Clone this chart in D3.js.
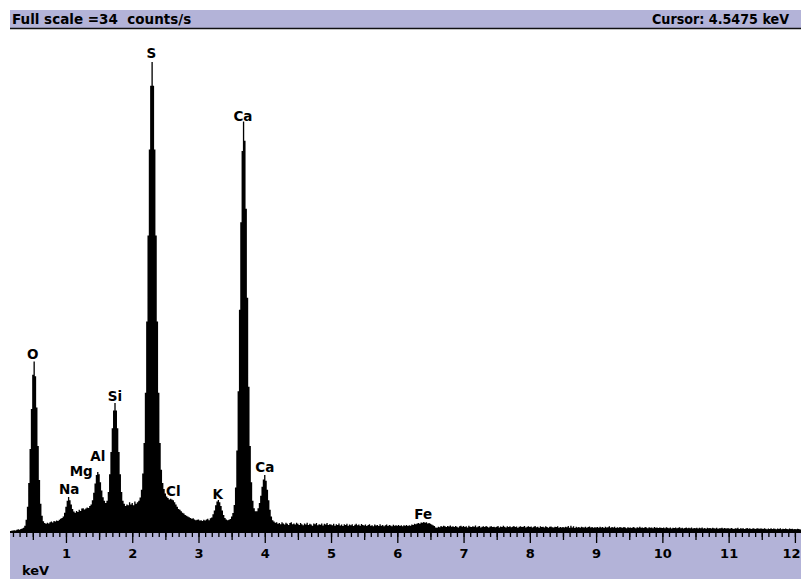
<!DOCTYPE html>
<html>
<head>
<meta charset="utf-8">
<script src="https://cdn.jsdelivr.net/npm/d3@7"></script>
<style>
  body { margin: 0; background: #fff; overflow: hidden; }
  text { font-family: "DejaVu Sans", sans-serif; font-weight: bold; fill: #000; white-space: pre; }
</style>
</head>
<body>
<script>
var d3; // loaded from the CDN

// spectrum: counts/s per channel, channel i sits at i * channelWidth keV
var channelWidth = 0.02;
var counts = [
  // 0.00 - 0.48 keV
  0,0,0,0,0,0,0,0,0.05,0.08,0.1,0.12,0.1,0.15,0.18,0.16,0.2,0.24,0.28,0.42,0.83,1.7,3.3,5.6,8.3,
  // 0.50 - 0.98
  10.6,11.5,10.5,8.4,5.8,3.5,1.9,1.1,0.72,0.6,0.55,0.62,0.58,0.66,0.7,0.64,0.75,0.7,0.78,0.74,0.82,0.9,0.95,1.05,1.3,
  // 1.00 - 1.48
  1.7,2.1,2.36,2.15,1.85,1.55,1.38,1.3,1.42,1.35,1.5,1.42,1.58,1.6,1.52,1.58,1.66,1.62,1.75,1.85,2.15,2.64,3.27,3.85,4.05,
  // 1.50 - 1.98
  3.9,3.35,2.8,2.35,2.1,1.95,2.1,2.7,3.9,5.4,7.0,8.2,8.7,8.2,7.0,5.4,3.9,2.7,2.1,1.9,1.75,1.85,1.8,2.0,1.85,
  // 2.00 - 2.48
  1.95,1.8,2.05,1.9,2.0,2.1,2.33,2.85,3.95,6.0,9.4,14.2,20.0,25.8,30.1,31.7,30.1,25.8,20.0,14.2,9.4,6.0,4.2,3.3,2.9,
  // 2.50 - 2.98
  2.6,2.4,2.3,2.2,2.25,2.2,2.15,2.0,1.85,1.7,1.55,1.5,1.4,1.3,1.25,1.15,1.1,1.05,1.0,0.95,0.9,0.92,0.85,0.8,0.82,
  // 3.00 - 3.48
  0.85,0.78,0.8,0.75,0.82,0.78,0.85,0.9,0.8,0.92,0.98,1.2,1.45,1.8,2.05,2.16,2.0,1.75,1.45,1.15,0.95,0.85,0.8,0.82,0.88,
  // 3.50 - 3.98
  1.05,1.28,1.82,3.0,5.5,9.5,15.0,20.9,25.7,27.7,26.4,21.8,15.8,9.8,5.8,3.35,2.1,1.6,1.4,1.4,1.6,1.95,2.45,3.05,3.55,
  // 4.00 - 4.48
  3.85,3.45,2.85,2.15,1.5,1.05,0.8,0.7,0.62,0.66,0.55,0.6,0.52,0.65,0.58,0.5,0.62,0.55,0.48,0.6,0.66,0.52,0.58,0.5,0.62,
  // 4.50 - 4.98
  0.55,0.48,0.6,0.52,0.45,0.58,0.5,0.62,0.47,0.55,0.5,0.42,0.58,0.52,0.6,0.46,0.53,0.49,0.57,0.44,0.55,0.5,0.6,0.48,0.52,
  // 5.00 - 5.48
  0.5,0.45,0.55,0.42,0.52,0.48,0.58,0.44,0.5,0.4,0.53,0.47,0.55,0.43,0.5,0.46,0.52,0.41,0.49,0.56,0.45,0.5,0.42,0.54,0.47,
  // 5.50 - 5.98
  0.44,0.5,0.4,0.48,0.52,0.42,0.46,0.38,0.5,0.44,0.47,0.4,0.53,0.43,0.48,0.39,0.45,0.5,0.41,0.47,0.44,0.38,0.49,0.43,0.46,
  // 6.00 - 6.48
  0.42,0.47,0.4,0.45,0.38,0.46,0.42,0.48,0.4,0.45,0.43,0.5,0.48,0.55,0.52,0.58,0.6,0.56,0.64,0.62,0.68,0.63,0.66,0.58,0.6,
  // 6.50 - 6.98
  0.55,0.5,0.45,0.4,0.3,0.28,0.35,0.32,0.4,0.36,0.42,0.38,0.33,0.4,0.37,0.44,0.35,0.39,0.34,0.41,0.36,0.3,0.38,0.42,0.35,
  // 7.00 - 7.48
  0.4,0.34,0.38,0.3,0.42,0.36,0.33,0.39,0.35,0.44,0.32,0.37,0.4,0.31,0.36,0.38,0.33,0.41,0.35,0.3,0.37,0.39,0.34,0.36,0.32,
  // 7.50 - 7.98
  0.35,0.4,0.31,0.37,0.33,0.42,0.36,0.3,0.38,0.34,0.39,0.32,0.36,0.41,0.33,0.37,0.29,0.35,0.39,0.33,0.36,0.4,0.31,0.35,0.38,
  // 8.00 - 8.48
  0.34,0.37,0.3,0.36,0.4,0.32,0.35,0.29,0.38,0.33,0.36,0.31,0.39,0.34,0.28,0.35,0.37,0.32,0.3,0.36,0.33,0.38,0.29,0.34,0.31,
  // 8.50 - 8.98
  0.33,0.3,0.36,0.32,0.4,0.28,0.42,0.3,0.38,0.27,0.35,0.31,0.34,0.29,0.36,0.32,0.3,0.35,0.28,0.33,0.37,0.3,0.34,0.29,0.32,
  // 9.00 - 9.48
  0.3,0.34,0.28,0.36,0.31,0.33,0.27,0.35,0.3,0.32,0.38,0.29,0.33,0.3,0.35,0.27,0.32,0.29,0.34,0.31,0.28,0.33,0.3,0.26,0.32,
  // 9.50 - 9.98
  0.29,0.31,0.27,0.34,0.3,0.26,0.32,0.28,0.35,0.29,0.31,0.27,0.33,0.3,0.25,0.32,0.28,0.3,0.26,0.33,0.29,0.31,0.27,0.3,0.28,
  // 10.00 - 10.48
  0.27,0.3,0.25,0.32,0.28,0.26,0.31,0.24,0.29,0.27,0.3,0.25,0.28,0.32,0.26,0.29,0.24,0.27,0.3,0.25,0.28,0.26,0.31,0.24,0.27,
  // 10.50 - 10.98
  0.26,0.29,0.23,0.28,0.25,0.3,0.24,0.27,0.22,0.28,0.25,0.27,0.23,0.29,0.26,0.24,0.28,0.22,0.26,0.25,0.29,0.23,0.27,0.24,0.26,
  // 11.00 - 11.48
  0.25,0.22,0.27,0.24,0.2,0.26,0.23,0.28,0.21,0.25,0.23,0.26,0.2,0.24,0.27,0.22,0.25,0.21,0.24,0.26,0.2,0.23,0.25,0.22,0.24,
  // 11.50 - 11.98
  0.23,0.2,0.25,0.22,0.19,0.24,0.21,0.26,0.2,0.23,0.22,0.18,0.24,0.21,0.25,0.19,0.22,0.2,0.24,0.21,0.18,0.23,0.2,0.22,0.19,
  // 12.00 - 12.14
  0.21,0.18,0.22,0.2,0.17,0.21,0.19,0.2
];

// axis labels
var majorTicks = [1, 2, 3, 4, 5, 6, 7, 8, 9, 10, 11, 12];

// peak labels: element, energy (keV), height of the label baseline (counts/s)
var elementLabels = ["O", "Na", "Mg", "Al", "Si", "S", "Cl", "K", "Ca", "Ca", "Fe"];
var labelEnergies = [0.50, 1.05, 1.23, 1.48, 1.74, 2.29, 2.62, 3.29, 3.67, 4.00, 6.39];
var labelLevels   = [11.67, 2.56, 3.78, 4.79, 8.84, 31.98, 2.43, 2.23, 27.73, 4.05, 0.88];

var fullScale = 34;       // counts/s
var cursorEnergy = "4.5475";

window.onload = () => {

  var width = 801, height = 579;
  var purple = "#b3b3d8";
  var plotLeft = 10, plotTop = 28, baseY = 532;

  var x = d3.scaleLinear().domain([0, 12]).range([-0.3, 794.9]);
  var y = d3.scaleLinear().domain([0, fullScale]).range([baseY, plotTop]);

  var svg = d3.select("body").append("svg")
    .attr("width", width)
    .attr("height", height);

  // header bar
  svg.append("rect")
    .attr("x", plotLeft).attr("y", 10)
    .attr("width", width - plotLeft).attr("height", 18)
    .attr("fill", purple);
  svg.append("line")
    .attr("x1", plotLeft).attr("x2", width)
    .attr("y1", 28.5).attr("y2", 28.5)
    .attr("stroke", "#111").attr("stroke-width", 1.6);

  svg.append("text")
    .attr("x", 12).attr("y", 23.5)
    .style("font-size", "13.5px")
    .text("Full scale =" + fullScale + "  counts/s");

  svg.append("text")
    .attr("x", 789).attr("y", 23.5)
    .attr("text-anchor", "end")
    .style("font-size", "13.5px")
    .attr("textLength", 137).attr("lengthAdjust", "spacingAndGlyphs")
    .text("Cursor: " + cursorEnergy + " keV");

  // spectrum
  svg.append("clipPath").attr("id", "plot-clip")
    .append("rect")
    .attr("x", plotLeft).attr("y", plotTop)
    .attr("width", width - plotLeft).attr("height", baseY - plotTop + 1);

  var area = d3.area()
    .curve(d3.curveStep)
    .x(function (d, i) { return x(i * channelWidth); })
    .y0(y(0))
    .y1(function (d) { return y(d); });

  svg.append("path")
    .datum(counts)
    .attr("clip-path", "url(#plot-clip)")
    .attr("fill", "#000")
    .attr("d", area);

  // bottom band with the energy axis
  svg.append("rect")
    .attr("x", plotLeft).attr("y", baseY + 1)
    .attr("width", width - plotLeft).attr("height", height - baseY - 1)
    .attr("fill", purple);

  var minorTicks = d3.range(2, 122).map(function (i) { return i / 10; });
  var halfTicks = d3.range(0.5, 12.5, 1);

  var axisG = svg.append("g").attr("transform", "translate(0," + baseY + ")");

  axisG.append("g")
    .call(d3.axisBottom(x).tickValues(minorTicks).tickSize(5).tickFormat(""));
  axisG.append("g")
    .call(d3.axisBottom(x).tickValues(halfTicks).tickSize(8).tickFormat(""));
  var majorG = axisG.append("g")
    .call(d3.axisBottom(x).tickValues(majorTicks).tickSize(11).tickPadding(6)
      .tickFormat(d3.format("d")));

  axisG.selectAll(".domain").remove();
  axisG.selectAll(".tick line").attr("stroke", "#000").attr("stroke-width", 1.3);
  axisG.selectAll(".tick text")
    .attr("font-family", null).attr("font-size", null)
    .style("font-size", "13px");

  // the last label sits at the right edge: keep it inside the page
  majorG.selectAll(".tick text")
    .filter(function (d) { return d === 12; })
    .attr("text-anchor", "end")
    .attr("x", width - 1 - x(12));

  svg.append("line")
    .attr("x1", plotLeft).attr("x2", width)
    .attr("y1", baseY).attr("y2", baseY)
    .attr("stroke", "#000").attr("stroke-width", 2);

  svg.append("text")
    .attr("x", 22).attr("y", 575)
    .style("font-size", "13px")
    .text("keV");

  // element labels
  svg.selectAll(".peak-label")
    .data(elementLabels)
    .enter().append("text")
    .attr("class", "peak-label")
    .attr("x", function (d, i) { return x(labelEnergies[i]); })
    .attr("y", function (d, i) { return y(labelLevels[i]); })
    .attr("text-anchor", "middle")
    .style("font-size", "13.5px")
    .text(function (d) { return d; });

};
</script>
</body>
</html>
